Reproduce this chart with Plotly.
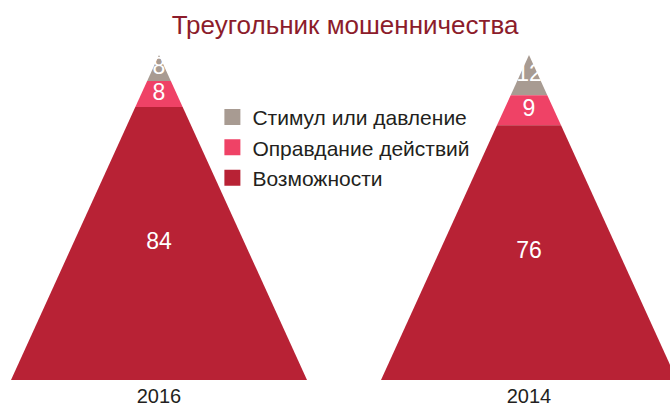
import plotly.graph_objects as go

# Fraud triangle, share of respondents (%)
years = ['2016', '2014']
categories = ['Стимул или давление', 'Оправдание действий', 'Возможности']
pressure = [8, 12]
rationalization = [8, 9]
opportunity = [84, 76]

colors = ['#a89b92', '#ef4266', '#b82235']
series = [pressure, rationalization, opportunity]

HALF_BASE = 0.4  # half width of a triangle base, in x units
TOP = 100  # apex height

fig = go.Figure()

lab_x, lab_y, lab_t = [], [], []
for i, year in enumerate(years):
    vals = [s[i] for s in series]
    total = sum(vals)
    depth = 0.0
    for k, v in enumerate(vals):
        d0 = depth / total
        d1 = (depth + v) / total
        depth += v
        xs = [i - HALF_BASE * d0, i + HALF_BASE * d0,
              i + HALF_BASE * d1, i - HALF_BASE * d1, i - HALF_BASE * d0]
        ys = [TOP * (1 - d0), TOP * (1 - d0), TOP * (1 - d1),
              TOP * (1 - d1), TOP * (1 - d0)]
        fig.add_trace(go.Scatter(x=xs, y=ys, fill='toself', mode='lines',
                                 line={'width': 0}, fillcolor=colors[k],
                                 hoverinfo='skip', showlegend=False))
        lab_x.append(i)
        lab_y.append(TOP * (1 - (d0 + d1) / 2))
        lab_t.append(str(v))

fig.add_trace(go.Scatter(x=lab_x, y=lab_y, text=lab_t, mode='text',
                         textfont={'color': 'white', 'size': 23},
                         hoverinfo='skip', showlegend=False))

# legend entries
for k, name in enumerate(categories):
    fig.add_trace(go.Scatter(x=[None], y=[None], mode='markers', name=name,
                             marker={'symbol': 'square', 'size': 16,
                                     'color': colors[k]}))

fig.update_layout(
    width=670, height=408,
    margin={'l': 0, 'r': 0, 't': 0, 'b': 28},
    plot_bgcolor='white', paper_bgcolor='white',
    font={'family': 'Liberation Sans, Arial, sans-serif', 'color': '#231f20'},
    title={'text': 'Треугольник мошенничества', 'x': 0.515, 'y': 1 - 25 / 408,
           'xanchor': 'center', 'yanchor': 'middle',
           'font': {'size': 26, 'color': '#8c1c2b'}},
    legend={'x': 0.317, 'y': 0.745, 'xanchor': 'left', 'yanchor': 'top',
            'font': {'size': 21}, 'bgcolor': 'rgba(0,0,0,0)',
            'itemwidth': 30, 'tracegroupgap': 0},
    xaxis={'range': [-159 / 370, 511 / 370], 'tickvals': [0, 1],
           'ticktext': years, 'showgrid': False, 'zeroline': False,
           'showline': False, 'ticks': '', 'tickfont': {'size': 20},
           'ticklabelstandoff': 2, 'automargin': False, 'fixedrange': True},
    yaxis={'range': [0, 380 / 3.25], 'visible': False, 'fixedrange': True},
)

fig.write_html("out.html", config={'displayModeBar': False},
               post_script="document.body.style.margin = '0';")
